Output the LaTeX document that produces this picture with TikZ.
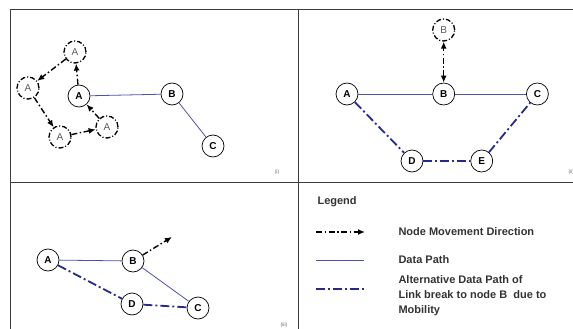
\documentclass[tikz,border=0pt]{standalone}
\usepackage{fontspec}
\setmainfont{Liberation Sans}
\usetikzlibrary{positioning, arrows.meta}
\definecolor{pathblue}{RGB}{80,80,175}
\definecolor{altblue}{RGB}{40,40,145}
\definecolor{framegray}{RGB}{60,60,60}
\tikzstyle{mnode} = [circle, draw=black, line width=0.7pt, minimum size=22pt, inner sep=0pt, fill=white, font=\bfseries\fontsize{10}{12}\selectfont]
\tikzstyle{ghost} = [circle, draw=black, line width=1.3pt, dash pattern=on 5pt off 2pt on 1pt off 2pt, minimum size=22pt, inner sep=0pt, text=black!65, font=\fontsize{10}{12}\selectfont]
\tikzstyle{move} = [line width=1.4pt, dash pattern=on 6pt off 2.5pt on 1.5pt off 2.5pt, -{Latex[length=7pt,width=6pt]}]
\tikzstyle{datapath} = [draw=pathblue, line width=0.8pt]
\tikzstyle{altpath} = [draw=altblue, line width=1.8pt, dash pattern=on 9pt off 3pt on 2pt off 3pt]
\tikzstyle{tag} = [font=\fontsize{5}{6}\selectfont, text=black!60]
\tikzstyle{legtext} = [font=\bfseries\fontsize{11}{15}\selectfont, text=black!80, anchor=west, align=left]

\begin{document}
\begin{tikzpicture}[x=1pt, y=-1pt]
    \useasboundingbox (0,0) rectangle (573,329);
    % frame
    \draw [framegray, line width=1pt] (10.5,329) -- (10.5,10) -- (573,10);
    \draw [framegray, line width=1pt] (10.5,182) -- (573,182);
    \draw [framegray, line width=1pt] (298,10) -- (298,329);

    % (i) node A moving round
    \node (a1) [mnode] at (79,96) {A};
    \node (b1) [mnode] at (172,94) {B};
    \node (c1) [mnode] at (213,146) {C};
    \node (ga1) [ghost] at (75,52) {A};
    \node (ga2) [ghost] at (28,88) {A};
    \node (ga3) [ghost] at (60,137) {A};
    \node (ga4) [ghost] at (107,127) {A};
    \draw [datapath] (a1) -- (b1);
    \draw [datapath] (b1) -- (c1);
    \draw [move] (a1) -- (ga1);
    \draw [move] (ga1) -- (ga2);
    \draw [move] (ga2) -- (ga3);
    \draw [move] (ga3) -- (ga4);
    \draw [move] (ga4) -- (a1);
    \node (tag1) [tag] at (277,172) {(i)};

    % (ii) node B moves away
    \node (a2) [mnode] at (347,94) {A};
    \node (b2) [mnode, right=74pt of a2] {B};
    \node (c2) [mnode, right=71pt of b2] {C};
    \node (gb2) [ghost, above=41pt of b2] {B};
    \node (d2) [mnode] at (412,161) {D};
    \node (e2) [mnode, right=47pt of d2] {E};
    \draw [datapath] (a2) -- (b2);
    \draw [datapath] (b2) -- (c2);
    \draw [move, {Latex[length=7pt,width=6pt]}-{Latex[length=7pt,width=6pt]}] (b2) -- (gb2);
    \draw [altpath] (a2) -- (d2);
    \draw [altpath] (d2) -- (e2);
    \draw [altpath] (e2) -- (c2);
    \node (tag2) [tag, anchor=west] at (565,172) {(ii)};

    % (iii)
    \node (a3) [mnode] at (48,260) {A};
    \node (b3) [mnode] at (133,261) {B};
    \node (c3) [mnode] at (198,308) {C};
    \node (d3) [mnode] at (132,304) {D};
    \coordinate (b3go) at (172,237);
    \draw [datapath] (a3) -- (b3);
    \draw [datapath] (b3) -- (c3);
    \draw [altpath] (a3) -- (d3);
    \draw [altpath] (d3) -- (c3);
    \draw [move] (b3) -- (b3go);
    \node (tag3) [tag] at (284,325) {(iii)};

    % legend
    \node (leg) [legtext] at (314,202) {Legend};
    \coordinate (l1s) at (316,232);
    \coordinate (l1e) at (365,232);
    \coordinate (l2s) at (316,260);
    \coordinate (l2e) at (364,260);
    \coordinate (l3s) at (316,289);
    \coordinate (l3e) at (364,289);
    \draw [move] (l1s) -- (l1e);
    \draw [datapath] (l2s) -- (l2e);
    \draw [altpath] (l3s) -- (l3e);
    \node (leg1) [legtext] at (395,232) {Node Movement Direction};
    \node (leg2) [legtext] at (395,260) {Data Path};
    \node (leg3) [legtext] at (395,296) {Alternative Data Path of\\Link break to node B~ due to\\Mobility};
\end{tikzpicture}
\end{document}
